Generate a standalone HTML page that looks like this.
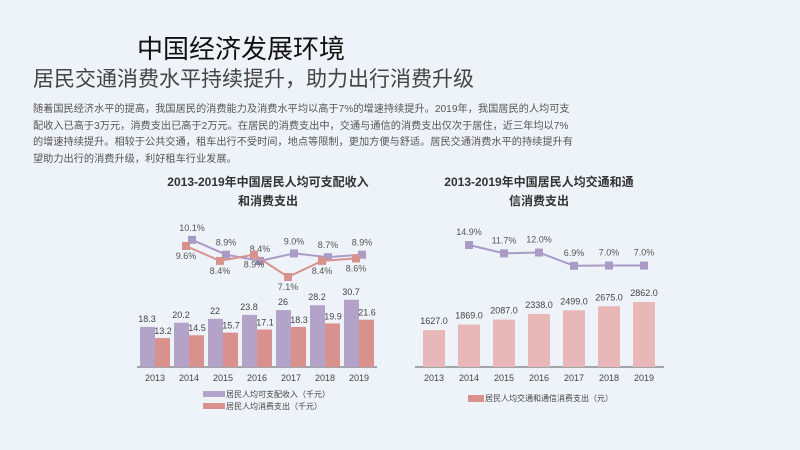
<!DOCTYPE html>
<html><head><meta charset="utf-8">
<style>
body{margin:0;width:800px;height:450px;overflow:hidden;background:#eef3f9;font-family:"Liberation Sans","Noto Sans CJK SC",sans-serif;position:relative}
.t{position:absolute;white-space:nowrap}
svg text{font-family:"Liberation Sans","Noto Sans CJK SC",sans-serif}
</style></head><body>
<div class="t" style="left:137px;top:33px;font-size:26px;color:#111;line-height:32px">中国经济发展环境</div>
<div class="t" style="left:33px;top:67px;font-size:21px;color:#444;line-height:26px">居民交通消费水平持续提升，助力出行消费升级</div>
<div class="t" style="left:33px;top:102px;font-size:10.2px;color:#555;line-height:16.5px">随着国民经济水平的提高，我国居民的消费能力及消费水平均以高于7%的增速持续提升。2019年，我国居民的人均可支<br>配收入已高于3万元，消费支出已高于2万元。在居民的消费支出中，交通与通信的消费支出仅次于居住，近三年均以7%<br>的增速持续提升。相较于公共交通，租车出行不受时间，地点等限制，更加方便与舒适。居民交通消费水平的持续提升有<br>望助力出行的消费升级，利好租车行业发展。</div>
<svg id="c" width="800" height="450" style="position:absolute;left:0;top:0">
<text x="268" y="186" text-anchor="middle" font-size="12" font-weight="bold" fill="#333">2013-2019年中国居民人均可支配收入</text>
<text x="268" y="205" text-anchor="middle" font-size="12" font-weight="bold" fill="#333">和消费支出</text>
<text x="539" y="186" text-anchor="middle" font-size="12" font-weight="bold" fill="#333">2013-2019年中国居民人均交通和通</text>
<text x="539" y="205" text-anchor="middle" font-size="12" font-weight="bold" fill="#333">信消费支出</text>
</svg>
<script>
const years=["2013","2014","2015","2016","2017","2018","2019"];
const income=[18.3,20.2,22,23.8,26,28.2,30.7];
const spend=[13.2,14.5,15.7,17.1,18.3,19.9,21.6];
const incomeGrowth=[null,10.1,8.9,8.4,9.0,8.7,8.9];
const spendGrowth=[null,9.6,8.4,8.9,7.1,8.4,8.6];
const transport=[1627.0,1869.0,2087.0,2338.0,2499.0,2675.0,2862.0];
const transportGrowth=[null,14.9,11.7,12.0,6.9,7.0,7.0];

const svg=document.getElementById('c');
const NS='http://www.w3.org/2000/svg';
function mk(tag,attrs,parent){const e=document.createElementNS(NS,tag);for(const k in attrs)e.setAttribute(k,attrs[k]);(parent||svg).appendChild(e);return e;}
function txt(x,y,s,size,fill,anchor){const e=mk('text',{x:x,y:y,'font-size':size,fill:fill,'text-anchor':anchor||'middle'});e.textContent=s;return e;}

const base=367;
const lx=i=>155+i*34;
const ly=v=>base-v*2.19;
const lg=v=>246-(v-9.6)*12.4;
let ax=mk('line',{x1:137,y1:base,x2:377,y2:base,stroke:'#555','stroke-width':1});

years.forEach((y,i)=>{
  let b=mk('rect',{x:lx(i)-15,y:ly(income[i]),width:15,height:base-ly(income[i]),fill:'#b3a3c8'});
  
  let r=mk('rect',{x:lx(i),y:ly(spend[i]),width:15,height:base-ly(spend[i]),fill:'#d9918d'});
  
  let t1=txt(lx(i)-8,ly(income[i])-5,String(income[i]),9,'#444');
  
  let t2=txt(lx(i)+8,ly(spend[i])-4,String(spend[i]),9,'#444');
  
  let t3=txt(lx(i),381,y,9,'#444');
  
});
function growthLine(vals,xf,yf,color,name,labelDy){
  const pts=[];vals.forEach((v,i)=>{if(v!==null)pts.push([xf(i),yf(v),v]);});
  let p=mk('polyline',{points:pts.map(q=>q[0]+','+q[1]).join(' '),fill:'none',stroke:color,'stroke-width':2});
  
  pts.forEach((q,j)=>{
    let m=mk('rect',{x:q[0]-4,y:q[1]-4,width:8,height:8,fill:color});
    
    let t=txt(q[0],q[1]+labelDy(j),q[2].toFixed(1)+'%',9,'#555');
    
  });
}
growthLine(incomeGrowth,i=>lx(i)+3,lg,'#a99bc6','income-growth',()=>-9);
growthLine(spendGrowth,i=>lx(i)-3,lg,'#d8928d','spend-growth',()=>13);

let lg1=mk('rect',{x:203,y:391,width:22,height:6,fill:'#b3a3c8'});

let lt1=txt(226,397,'居民人均可支配收入（千元）',8,'#444','start');

let lg2=mk('rect',{x:203,y:403,width:22,height:6,fill:'#d9918d'});

let lt2=txt(226,409,'居民人均消费支出（千元）',8,'#444','start');


const rx=i=>434+i*35;
const ry=v=>base-v*0.0227;
const rg=v=>245+(14.9-v)*2.6;
let ax2=mk('line',{x1:415,y1:base,x2:664,y2:base,stroke:'#555','stroke-width':1});

years.forEach((y,i)=>{
  let b=mk('rect',{x:rx(i)-11,y:ry(transport[i]),width:22,height:base-ry(transport[i]),fill:'#e7b8b7'});
  
  let t=txt(rx(i),ry(transport[i])-6,transport[i].toFixed(1),9,'#444');
  
  let t3=txt(rx(i),381,y,9,'#444');
  
});
growthLine(transportGrowth,rx,rg,'#a99bc6','transport-growth',()=>-10);
let lg3=mk('rect',{x:468,y:395,width:16,height:7,fill:'#d9918d'});

let lt3=txt(485,401,'居民人均交通和通信消费支出（元）',8,'#444','start');

</script>
</body></html>
